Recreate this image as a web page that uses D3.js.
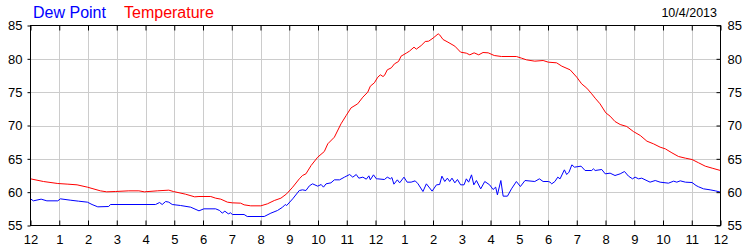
<!DOCTYPE html>
<html>
<head>
  <meta charset="utf-8">
  <title>Dew Point / Temperature</title>
  <script src="https://d3js.org/d3.v7.min.js"></script>
  <style>
    body { margin: 0; background: #fff; }
    text { font-family: Arial, "Liberation Sans", sans-serif; }
  </style>
</head>
<body>
<div id="chart"></div>
<script>

  // hours since midnight
  var tempHours = [0, 0.45, 0.95, 1.3, 1.62, 1.98, 2.43, 2.65, 2.95, 3.42, 3.77, 3.96, 4.41, 4.81, 4.97, 5.39, 5.71,
    5.86, 6.27, 6.44, 6.62, 6.85, 7.02, 7.31, 7.43, 7.66, 8.01, 8.24, 8.48, 8.71, 8.91, 9.12, 9.35, 9.46, 9.58, 9.76,
    9.99, 10.22, 10.34, 10.57, 10.8, 10.98, 11.15, 11.38, 11.56, 11.73, 11.82, 11.96, 12.08, 12.17, 12.26, 12.31,
    12.41, 12.55, 12.66, 12.8, 12.89, 13.07, 13.18, 13.34, 13.42, 13.59, 13.73, 13.85, 14.0, 14.18, 14.23, 14.35,
    14.52, 14.76, 14.96, 15.16, 15.28, 15.43, 15.59, 15.74, 15.92, 16.13, 16.38, 16.9, 17.08, 17.25, 17.54, 17.83,
    18.01, 18.3, 18.48, 18.77, 19.0, 19.17, 19.35, 19.52, 19.64, 19.81, 20.01, 20.16, 20.33, 20.51, 20.74, 20.97,
    21.21, 21.44, 21.67, 21.9, 22.08, 22.31, 22.54, 22.78, 23.01, 23.24, 23.47, 23.71, 24.0];
  var tempValues = [62.0, 61.6, 61.3, 61.2, 61.1, 60.75, 60.2, 60.05, 60.1, 60.2, 60.2, 60.05, 60.2, 60.3, 60.1, 59.7, 59.3,
    59.35, 59.35, 59.1, 58.95, 58.5, 58.4, 58.35, 58.1, 57.95, 57.95, 58.25, 58.75, 59.1, 59.75, 60.75, 62.0, 62.5, 62.75, 64.0,
    65.25, 66.1, 67.25, 68.25, 70.25, 71.5, 72.65, 73.25, 74.25, 75.0, 75.9, 76.4, 77.25, 77.6, 77.35, 77.5,
    78.35, 78.65, 79.25, 79.6, 80.4, 80.85, 81.15, 81.75, 81.45, 82.0, 82.6, 82.65, 83.1, 83.75, 83.6, 82.9,
    82.5, 81.9, 81.0, 80.85, 80.6, 80.9, 80.6, 80.95, 80.9, 80.5, 80.35, 80.35, 80.1, 79.85, 79.65, 79.75,
    79.5, 79.4, 78.9, 78.35, 77.25, 76.25, 75.6, 74.75, 74.1, 73.25, 71.9, 71.4, 70.6, 70.15, 69.85, 69.1,
    68.5, 67.65, 67.25, 66.75, 66.5, 65.9, 65.35, 65.1, 64.9, 64.4, 63.9, 63.6, 63.25];

  var dewHours = [0, 0.1, 0.37, 0.57, 0.95, 1.04, 1.38, 1.67, 1.98, 2.14, 2.34, 2.72, 2.78, 4.35, 4.49, 4.58, 4.7, 4.81,
    4.93, 5.22, 5.57, 5.86, 6.03, 6.44, 6.58, 6.67, 6.76, 6.88, 6.96, 7.02, 7.43, 7.54, 8.13, 8.36, 8.59, 8.77, 8.86,
    8.91, 9.12, 9.35, 9.46, 9.58, 9.7, 9.81, 9.99, 10.11, 10.19, 10.28, 10.45, 10.57, 10.75, 10.92, 11.1, 11.21, 11.33,
    11.42, 11.56, 11.68, 11.77, 11.82, 11.93, 12.03, 12.08, 12.31, 12.41, 12.52, 12.57, 12.64, 12.76, 12.84, 12.99,
    13.1, 13.24, 13.38, 13.48, 13.65, 13.77, 13.97, 14.12, 14.23, 14.31, 14.41, 14.5, 14.58, 14.66, 14.76, 14.85,
    14.96, 15.08, 15.16, 15.24, 15.34, 15.42, 15.51, 15.66, 15.8, 15.97, 16.09, 16.18, 16.24, 16.36, 16.44, 16.59,
    16.73, 16.9, 17.04, 17.2, 17.54, 17.7, 17.83, 18.01, 18.07, 18.13, 18.24, 18.34, 18.42, 18.57, 18.65, 18.73,
    18.83, 18.92, 19.15, 19.29, 19.52, 19.58, 19.64, 19.87, 19.99, 20.16, 20.33, 20.51, 20.66, 20.8, 20.94, 21.03,
    21.15, 21.26, 21.55, 21.73, 21.9, 22.19, 22.37, 22.48, 22.6, 22.78, 23.01, 23.15, 23.24, 23.41, 23.64, 23.82, 24.0];
  var dewValues = [59.0, 58.7, 58.95, 58.7, 58.7, 59.0, 58.8, 58.65, 58.5, 58.15, 57.8, 57.85, 58.15, 58.15, 58.45, 58.15, 58.6, 58.5,
    58.15, 58.0, 57.75, 57.2, 57.5, 57.5, 57.25, 56.85, 57.15, 56.75, 56.9, 56.65, 56.65, 56.35, 56.35, 56.85, 57.25, 57.75, 58.15,
    58.0, 59.0, 60.25, 60.35, 60.25, 60.95, 61.25, 60.9, 61.15, 60.75, 61.25, 61.4, 61.85, 61.85, 62.25, 62.65, 62.25, 62.65,
    62.1, 62.25, 61.95, 62.45, 61.85, 62.6, 62.0, 62.0, 61.9, 62.25, 62.0, 62.2, 61.2, 61.85, 61.4, 62.25,
    61.5, 61.5, 61.7, 61.25, 60.1, 61.25, 60.15, 61.1, 61.15, 62.4, 61.6, 62.1, 61.6, 62.1, 61.4, 61.9,
    61.1, 61.1, 62.0, 61.5, 62.6, 61.1, 61.75, 60.5, 61.6, 61.1, 60.4, 60.75, 59.6, 61.75, 59.4, 59.4,
    60.5, 61.6, 60.85, 61.75, 61.6, 62.0, 61.6, 61.6, 61.5, 61.25, 61.6, 62.25, 62.0, 63.35, 62.65, 63.0,
    64.1, 63.75, 63.9, 63.25, 63.25, 63.5, 63.25, 63.4, 62.75, 62.85, 62.5, 62.75, 63.1, 62.4, 62.0, 62.25,
    62.0, 62.1, 61.5, 61.75, 61.5, 61.35, 61.65, 61.5, 61.7, 61.5, 61.45, 61.0, 60.8, 60.5, 60.35, 60.2, 60.0];

  var hourTicks = d3.range(0, 25);
  var hourLabels = ["12", "1", "2", "3", "4", "5", "6", "7", "8", "9", "10", "11",
    "12", "1", "2", "3", "4", "5", "6", "7", "8", "9", "10", "11", "12"];
  var yTicks = [55, 60, 65, 70, 75, 80, 85];
  var dateLabel = "10/4/2013";

  var width = 750, height = 250;

  var x = d3.scaleLinear().domain([0, 24]).range([30.5, 720.5]);
  var y = d3.scaleLinear().domain([55, 85]).range([225.5, 25.5]);

  var svg = d3.select("#chart").append("svg")
    .attr("width", width)
    .attr("height", height);

  // grid
  var grid = svg.append("g").attr("stroke", "#cccccc").attr("stroke-width", 1);
  grid.selectAll(".vg")
    .data(hourTicks.slice(1, -1))
    .enter().append("line")
    .attr("x1", function (d) { return Math.round(x(d)) + 0.5; })
    .attr("x2", function (d) { return Math.round(x(d)) + 0.5; })
    .attr("y1", y(85)).attr("y2", y(55));
  grid.selectAll(".hg")
    .data(yTicks.slice(1, -1))
    .enter().append("line")
    .attr("x1", x(0)).attr("x2", x(24))
    .attr("y1", function (d) { return Math.round(y(d)) + 0.5; })
    .attr("y2", function (d) { return Math.round(y(d)) + 0.5; });

  // lines
  var line = d3.line()
    .x(function (d) { return x(d[0]); })
    .y(function (d) { return y(d[1]); });

  var dewData = d3.zip(dewHours, dewValues);
  var tempData = d3.zip(tempHours, tempValues);

  svg.append("path")
    .datum(dewData)
    .attr("fill", "none")
    .attr("stroke", "#0000ff")
    .attr("stroke-width", 1)
    .attr("d", line);

  svg.append("path")
    .datum(tempData)
    .attr("fill", "none")
    .attr("stroke", "#ff0000")
    .attr("stroke-width", 1)
    .attr("d", line);

  // frame
  svg.append("rect")
    .attr("x", x(0)).attr("y", y(85))
    .attr("width", x(24) - x(0)).attr("height", y(55) - y(85))
    .attr("fill", "none")
    .attr("stroke", "#000")
    .attr("stroke-width", 1);

  // x axis (bottom) with inner ticks, and top ticks
  var xAxis = d3.axisBottom(x)
    .tickValues(hourTicks)
    .tickSizeInner(-5)
    .tickSizeOuter(0)
    .tickPadding(9)
    .tickFormat(function (d, i) { return hourLabels[i]; });

  var gx = svg.append("g")
    .attr("transform", "translate(0," + y(55) + ")")
    .call(xAxis);
  gx.select(".domain").remove();
  gx.selectAll("text").attr("font-size", "13px").attr("fill", "#000").attr("font-family", "Arial, 'Liberation Sans', sans-serif");

  var gxTop = svg.append("g")
    .attr("transform", "translate(0," + y(85) + ")")
    .call(d3.axisTop(x).tickValues(hourTicks).tickSizeInner(-5).tickSizeOuter(0).tickFormat(""));
  gxTop.select(".domain").remove();

  // y axes
  var gyl = svg.append("g")
    .attr("transform", "translate(" + x(0) + ",0)")
    .call(d3.axisLeft(y).tickValues(yTicks).tickSizeInner(3).tickSizeOuter(0).tickPadding(5));
  gyl.select(".domain").remove();
  gyl.selectAll("text").attr("font-size", "13px").attr("fill", "#000").attr("font-family", "Arial, 'Liberation Sans', sans-serif");

  var gyr = svg.append("g")
    .attr("transform", "translate(" + x(24) + ",0)")
    .call(d3.axisRight(y).tickValues(yTicks).tickSizeInner(-4).tickSizeOuter(0).tickPadding(7));
  gyr.select(".domain").remove();
  gyr.selectAll("text").attr("font-size", "13px").attr("fill", "#000").attr("font-family", "Arial, 'Liberation Sans', sans-serif");

  // legend and date
  svg.append("text")
    .attr("x", 33).attr("y", 18)
    .attr("font-size", "16px")
    .attr("fill", "#0000ff")
    .text("Dew Point");
  svg.append("text")
    .attr("x", 124).attr("y", 18)
    .attr("font-size", "16px")
    .attr("fill", "#ff0000")
    .text("Temperature");
  svg.append("text")
    .attr("x", 717).attr("y", 17)
    .attr("text-anchor", "end")
    .attr("font-size", "12.5px")
    .attr("fill", "#000")
    .text(dateLabel);

</script>
</body>
</html>
